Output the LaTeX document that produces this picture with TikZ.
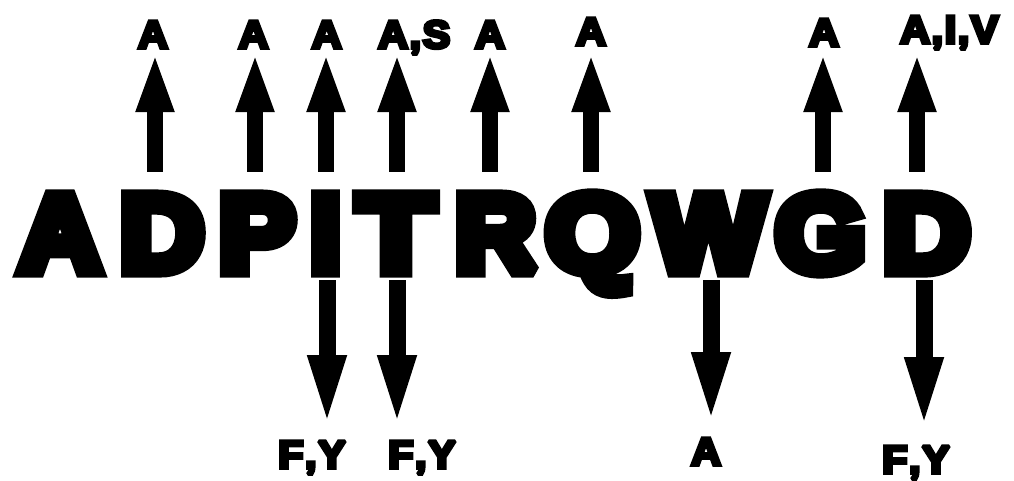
\documentclass[tikz,border=0pt]{standalone}
\usepackage{fontspec}
\usepackage{graphicx}
\newfontfamily\blk{Liberation Sans Bold}[FakeBold=12]
\newfontfamily\blks{Liberation Sans Bold}[FakeBold=9]
\usetikzlibrary{arrows.meta}
\newcommand\cm{\kern1.5pt,\kern1.5pt}
\begin{document}
\begin{tikzpicture}[x=1pt,y=-1pt,
  glyphs/.style={line join=miter, miter limit=2},
  letter/.style={glyphs, font=\blk\fontsize{109}{109}\selectfont, inner sep=0pt, text height=99pt, text depth=9pt, anchor=base},
  lab/.style={glyphs, font=\blks\fontsize{39}{39}\selectfont, inner sep=0pt, text height=31pt, text depth=0pt},
  uparr/.style={line width=16pt, -{Triangle[width=34pt,length=60pt]}},
  downarr/.style={line width=17pt, -{Triangle[width=34pt,length=73pt]}}]
\fill[white] (0,0) rectangle (1014,480);
\useasboundingbox (0,0) rectangle (1014,480);
% sequence letters
\node[letter] (lA)  at (60,271)    {\scalebox{1.04}[1]{A}};
\node[letter] (lD1) at (162,271)   {\scalebox{1.06}[1]{D}};
\node[letter] (lP)  at (257,271)   {\scalebox{1.04}[1]{P}};
\node[letter] (lI)  at (325.5,271) {\scalebox{1.0}[1]{I}};
\node[letter] (lT)  at (396,271)   {\scalebox{1.14}[1]{T}};
\node[letter] (lR)  at (495.5,271) {\scalebox{1.02}[1]{R}};
\node[letter] (lQ)  at (592.5,271) {\scalebox{1.10}[1]{Q}};
\node[letter] (lW)  at (708.5,271) {\scalebox{1.09}[1]{W}};
\node[letter] (lG)  at (820.5,271) {\scalebox{1.06}[1]{G}};
\node[letter] (lD2) at (926.5,271) {\scalebox{1.10}[1]{D}};
% upper labels
\node[lab,anchor=base] (u1) at (153,48) {\scalebox{1.06}[1]{A}};
\node[lab,anchor=base] (u2) at (253.5,48) {\scalebox{1.06}[1]{A}};
\node[lab,anchor=base] (u3) at (326.7,48) {\scalebox{1.06}[1]{A}};
\node[lab,anchor=base west] (u4) at (378,48) {\scalebox{1.06}[1]{A\cm S}};
\node[lab,anchor=base] (u5) at (490,48) {\scalebox{1.06}[1]{A}};
\node[lab,anchor=base] (u6) at (591,45) {\scalebox{1.06}[1]{A}};
\node[lab,anchor=base] (u7) at (824,46) {\scalebox{1.06}[1]{A}};
\node[lab,anchor=base west] (u8) at (900,43) {\scalebox{1.06}[1]{A\cm I\cm V}};
% lower labels
\node[lab,anchor=base west] (d1) at (278,468) {\scalebox{1.06}[1]{F\cm Y}};
\node[lab,anchor=base west] (d2) at (388,468) {\scalebox{1.06}[1]{F\cm Y}};
\node[lab,anchor=base] (d3) at (706,465) {\scalebox{1.06}[1]{A}};
\node[lab,anchor=base west] (d4) at (882,473) {\scalebox{1.06}[1]{F\cm Y}};
% arrow tips
\coordinate (t1) at (155,52);
\coordinate (t2) at (255,52);
\coordinate (t3) at (326,52);
\coordinate (t4) at (397,52);
\coordinate (t5) at (490,52);
\coordinate (t6) at (591,52);
\coordinate (t7) at (823,52);
\coordinate (t8) at (917,52);
\coordinate (b1) at (327,428);
\coordinate (b2) at (397,428);
\coordinate (b3) at (711,425);
\coordinate (b4) at (924,430);
% up arrows
\draw[uparr] (t1 |- lD1.north) -- (t1);
\draw[uparr] (t2 |- lP.north) -- (t2);
\draw[uparr] (t3 |- lI.north) -- (t3);
\draw[uparr] (t4 |- lT.north) -- (t4);
\draw[uparr] (t5 |- lR.north) -- (t5);
\draw[uparr] (t6 |- lQ.north) -- (t6);
\draw[uparr] (t7 |- lG.north) -- (t7);
\draw[uparr] (t8 |- lD2.north) -- (t8);
% down arrows
\draw[downarr] (b1 |- lI.south) -- (b1);
\draw[downarr] (b2 |- lT.south) -- (b2);
\draw[downarr] (b3 |- lW.south) -- (b3);
\draw[downarr] (b4 |- lD2.south) -- (b4);
\end{tikzpicture}
\end{document}
